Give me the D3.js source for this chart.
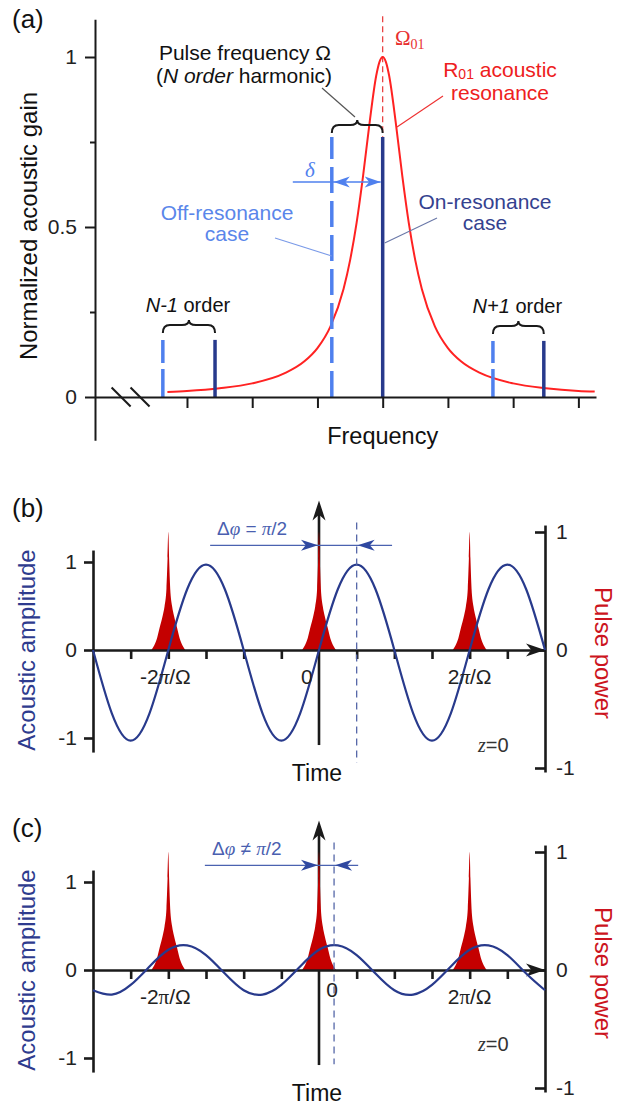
<!DOCTYPE html>
<html>
<head>
<meta charset="utf-8">
<script src="https://cdn.jsdelivr.net/npm/d3@7"></script>
<style>
  body { margin: 0; background: #fff; }
  svg { display: block; font-family: Arial, "Liberation Sans", Helvetica, sans-serif; }
</style>
</head>
<body>
<div id="chart"></div>
<script>
// ---------- panel (a): normalized acoustic gain vs frequency ----------
// frequency in tick units, Omega01 at 0
var resFreq = [-3.3, -3, -2.5, -2, -1.5, -1.2, -1, -0.8, -0.6, -0.5, -0.4, -0.3, -0.2, -0.1, -0.05, 0,
               0.05, 0.1, 0.2, 0.3, 0.4, 0.5, 0.6, 0.8, 1, 1.2, 1.5, 2, 2.5, 3, 3.25];
var resGain = [0.015, 0.018, 0.026, 0.040, 0.070, 0.105, 0.144, 0.208, 0.318, 0.402, 0.512, 0.651, 0.808, 0.944, 0.985, 1,
               0.985, 0.944, 0.808, 0.651, 0.512, 0.402, 0.318, 0.208, 0.144, 0.105, 0.070, 0.040, 0.026, 0.018, 0.016];
var orderNames = ["N-1", "N", "N+1"];
var offResFreq = [-3.37, -0.78, 1.69];
var onResFreq = [-2.57, 0, 2.47];
var harmonicGain = [0.168, 0.765, 0.165];
var gainTicks = [0, 0.5, 1];
var gainMinorTicks = [0.25, 0.75];
var freqTicks = [-3, -2, -1, 0, 1, 2, 3];
var breakFreq = [-4.01, -3.72];

// ---------- panels (b) and (c): acoustic amplitude and pulses vs time ----------
// time in tick units, 2*pi/Omega = 4 ticks
var timeVals = [-6, -5.5, -5, -4.5, -4, -3.5, -3, -2.5, -2, -1.5, -1, -0.5, 0,
                0.5, 1, 1.5, 2, 2.5, 3, 3.5, 4, 4.5, 5, 5.5, 6];
var ampOnRes = [0, -0.72, -1.03, -0.72, 0, 0.69, 0.97, 0.69, 0, -0.72, -1.03, -0.72, 0,
                0.69, 0.97, 0.69, 0, -0.72, -1.03, -0.72, 0, 0.69, 0.97, 0.69, 0];
var ampOffRes = [-0.23, -0.28, -0.17, 0.04, 0.23, 0.28, 0.17, -0.04, -0.23, -0.28, -0.17, 0.04, 0.23,
                 0.28, 0.17, -0.04, -0.23, -0.28, -0.17, 0.04, 0.23, 0.28, 0.17, -0.04, -0.23];
var pulseCenters = [-4, 0, 4];
var pulseDt = [-0.45, -0.38, -0.3, -0.23, -0.15, -0.1, -0.05, -0.02, 0, 0.02, 0.05, 0.1, 0.15, 0.23, 0.3, 0.38, 0.45];
var pulsePower = [0, 0.035, 0.1, 0.19, 0.29, 0.37, 0.52, 0.78, 1, 0.78, 0.52, 0.37, 0.29, 0.19, 0.1, 0.035, 0];
var timeTicks = [-5, -4, -3, -2, -1, 1, 2, 3, 4, 5];
var timeTickLabelPos = [-4, 4];
var timeTickLabelText = ["-2", "2"];
var ampTicks = [-1, 0, 1];
var powerTicks = [-1, 0, 1];
var panelLetters = ["(b)", "(c)"];
var phaseRelation = ["=", "\u2260"];
var dashedLineT = [1, 0.4];
var dashedBottomAmp = [-1.28, -1.07];
var arrowStartT = [-2.89, -3.03];
var arrowEndT = [1.94, 1.04];
var phaseTextT = [-2.71, -2.84];
var zeroLabelT = [-0.32, 0.35];
var zeroLabelDy = [0, -7];
var zLabelAmp = [-1.16, -0.92];

var W = 629, H = 1106;
var black = "#1a1a1a", red = "#ff2222", darkRed = "#c40000", navy = "#283a8c", lightBlue = "#4f80ee";
var serif = "'Liberation Serif', 'Times New Roman', serif";
var plainNum = function(d) { return String(d); };   // hyphen minus like the original

var svg = d3.select("#chart").append("svg").attr("width", W).attr("height", H);
svg.append("rect").attr("width", W).attr("height", H).attr("fill", "#fff");

function arrowHead(g, x, y, dir, color, len, half) {
  // dir: angle in degrees of pointing direction
  var p = [[0, 0], [-len, -half], [-len * 0.72, 0], [-len, half]];
  g.append("path")
    .attr("d", "M" + p.map(function(d) { return d.join(","); }).join("L") + "Z")
    .attr("transform", "translate(" + x + "," + y + ") rotate(" + dir + ")")
    .attr("fill", color);
}

function bracePath(x1, x2, yb) {
  var xm = (x1 + x2) / 2, h = 8, tip = 5, r = 7;
  return "M" + x1 + "," + yb + " Q" + x1 + "," + (yb - h) + " " + (x1 + r) + "," + (yb - h) +
         " L" + (xm - r) + "," + (yb - h) + " Q" + xm + "," + (yb - h) + " " + xm + "," + (yb - h - tip) +
         " Q" + xm + "," + (yb - h) + " " + (xm + r) + "," + (yb - h) +
         " L" + (x2 - r) + "," + (yb - h) + " Q" + x2 + "," + (yb - h) + " " + x2 + "," + yb;
}

function styleAxis(g, width, fontSize) {
  g.select(".domain").attr("stroke", black).attr("stroke-width", width);
  g.selectAll(".tick line").attr("stroke", black).attr("stroke-width", width);
  g.selectAll(".tick text").attr("fill", "#222").style("font-size", fontSize + "px")
    .style("font-family", "Arial, 'Liberation Sans', sans-serif");
}

// ================= panel (a) =================
var xA = d3.scaleLinear().domain([-4.41, 3.27]).range([95, 596]);
var yA = d3.scaleLinear().domain([0, 1]).range([397, 57]);
var yAext = d3.scaleLinear().domain([-0.127, 1.111]).range([yA(-0.127), yA(1.111)]);

var gA = svg.append("g").attr("class", "panel-a");

// red dashed Omega01 marker
gA.append("line")
  .attr("x1", xA(0)).attr("x2", xA(0))
  .attr("y1", yA(1.12)).attr("y2", yA(0))
  .attr("stroke", "#e83535").attr("stroke-width", 1.2).attr("stroke-dasharray", "6,4");

// resonance curve
var resData = resFreq.map(function(f, i) { return { f: f, g: resGain[i] }; });
gA.append("path")
  .datum(resData)
  .attr("fill", "none").attr("stroke", red).attr("stroke-width", 2)
  .attr("d", d3.line().x(function(d) { return xA(d.f); }).y(function(d) { return yA(d.g); })
    .curve(d3.curveMonotoneX));

// harmonic lines: dashed = off resonance, solid = on resonance
orderNames.forEach(function(name, i) {
  gA.append("line")
    .attr("x1", xA(offResFreq[i])).attr("x2", xA(offResFreq[i]))
    .attr("y1", yA(0)).attr("y2", yA(harmonicGain[i]))
    .attr("stroke", lightBlue).attr("stroke-width", 3.5)
    .attr("stroke-dasharray", i === 1 ? "26,8" : "28,6");
  gA.append("line")
    .attr("x1", xA(onResFreq[i])).attr("x2", xA(onResFreq[i]))
    .attr("y1", yA(0)).attr("y2", yA(harmonicGain[i]))
    .attr("stroke", navy).attr("stroke-width", 3.5);
  var yb = yA(harmonicGain[i]) - (i === 1 ? 4 : 7);
  gA.append("path")
    .attr("d", bracePath(xA(offResFreq[i]), xA(onResFreq[i]), yb))
    .attr("fill", "none").attr("stroke", black).attr("stroke-width", 2);
  if (i !== 1) {
    var lbl = gA.append("text")
      .attr("x", (xA(offResFreq[i]) + xA(onResFreq[i])) / 2 - 1)
      .attr("y", yb - 21)
      .attr("text-anchor", "middle").attr("fill", "#111").style("font-size", "20px");
    lbl.append("tspan").attr("font-style", "italic").text(name);
    lbl.append("tspan").text(" order");
  }
});

// axes
var axA_y = gA.append("g").attr("transform", "translate(" + xA.range()[0] + ",0)")
  .call(d3.axisLeft(yAext).tickValues(gainTicks).tickSize(10).tickSizeOuter(0).tickPadding(8)
    .tickFormat(plainNum));
styleAxis(axA_y, 2, 21);
var axA_ym = gA.append("g").attr("transform", "translate(" + xA.range()[0] + ",0)")
  .call(d3.axisLeft(yAext).tickValues(gainMinorTicks).tickSize(5).tickSizeOuter(0).tickFormat(""));
styleAxis(axA_ym, 2, 21);
axA_ym.select(".domain").remove();
var axA_x = gA.append("g").attr("transform", "translate(0," + yA(0) + ")")
  .call(d3.axisBottom(xA).tickValues(freqTicks).tickSize(11).tickSizeOuter(0).tickFormat(""));
styleAxis(axA_x, 2, 21);

// axis break marks
breakFreq.forEach(function(f) {
  gA.append("line")
    .attr("x1", xA(f) - 9.5).attr("y1", yA(0) - 9.5)
    .attr("x2", xA(f) + 9.5).attr("y2", yA(0) + 9.5)
    .attr("stroke", black).attr("stroke-width", 2);
});

// delta arrow between off- and on-resonance lines
var yDelta = 182;
gA.append("line").attr("x1", xA(offResFreq[1]) - 39).attr("x2", xA(onResFreq[1]) - 2)
  .attr("y1", yDelta).attr("y2", yDelta).attr("stroke", lightBlue).attr("stroke-width", 1.5);
arrowHead(gA, xA(onResFreq[1]) - 2, yDelta, 0, lightBlue, 16, 5.5);
arrowHead(gA, xA(offResFreq[1]) + 2, yDelta, 180, lightBlue, 16, 5.5);
gA.append("text").attr("x", xA(offResFreq[1]) - 22).attr("y", 177)
  .attr("text-anchor", "middle").attr("fill", lightBlue)
  .style("font-family", serif).style("font-style", "italic")
  .style("font-size", "21px").text("\u03b4");

// texts (a)
svg.append("text").attr("x", 12).attr("y", 28).style("font-size", "26px").attr("fill", "#111").text("(a)");

svg.append("text")
  .attr("transform", "translate(37," + 226 + ") rotate(-90)")
  .attr("text-anchor", "middle").style("font-size", "24px").attr("fill", "#111")
  .text("Normalized acoustic gain");

svg.append("text").attr("x", xA(0)).attr("y", 444).attr("text-anchor", "middle")
  .style("font-size", "23.5px").attr("fill", "#111").text("Frequency");

var pf = svg.append("g").attr("fill", "#111").style("font-size", "21px");
pf.append("text").attr("x", 245).attr("y", 60).attr("text-anchor", "middle").text("Pulse frequency \u03a9");
var pf2 = pf.append("text").attr("x", 244).attr("y", 83).attr("text-anchor", "middle");
pf2.append("tspan").text("(");
pf2.append("tspan").attr("font-style", "italic").text("N order");
pf2.append("tspan").text(" harmonic)");
svg.append("line").attr("x1", 355).attr("y1", 117).attr("x2", 322).attr("y2", 88)
  .attr("stroke", "#555").attr("stroke-width", 1.2);

var om = svg.append("text").attr("x", 395).attr("y", 45).attr("fill", "#e83030")
  .style("font-family", serif).style("font-size", "21px");
om.append("tspan").text("\u03a9");
om.append("tspan").attr("dy", 4).style("font-size", "14px").text("01");

var rr = svg.append("g").attr("fill", "#ee2020").style("font-size", "21px");
var r1 = rr.append("text").attr("x", 500).attr("y", 77).attr("text-anchor", "middle");
r1.append("tspan").text("R");
r1.append("tspan").attr("dy", 2).style("font-size", "14px").text("01");
r1.append("tspan").attr("dy", -2).text(" acoustic");
rr.append("text").attr("x", 500).attr("y", 100).attr("text-anchor", "middle").text("resonance");
svg.append("line").attr("x1", 443).attr("y1", 96).attr("x2", 397).attr("y2", 127)
  .attr("stroke", "#ee3030").attr("stroke-width", 1.1);

var off = svg.append("g").attr("fill", "#5a86ea").style("font-size", "21px").attr("text-anchor", "middle");
off.append("text").attr("x", 227).attr("y", 220).text("Off-resonance");
off.append("text").attr("x", 227).attr("y", 241).text("case");
svg.append("line").attr("x1", 275).attr("y1", 238).attr("x2", xA(offResFreq[1])).attr("y2", 256)
  .attr("stroke", "#7a9ae8").attr("stroke-width", 1.1);

var on = svg.append("g").attr("fill", "#34428f").style("font-size", "21px").attr("text-anchor", "middle");
on.append("text").attr("x", 485).attr("y", 209).text("On-resonance");
on.append("text").attr("x", 485).attr("y", 230).text("case");
svg.append("line").attr("x1", 437).attr("y1", 218).attr("x2", xA(onResFreq[1]) + 2).attr("y2", 243)
  .attr("stroke", "#6a78a8").attr("stroke-width", 1.1);

// ================= panels (b) and (c) =================
var xT = d3.scaleLinear().domain([-6, 6]).range([93, 545]);
var yAmp = d3.scaleLinear().domain([-1, 1]).range([738, 562]);
var yPow = d3.scaleLinear().domain([-1, 1]).range([768, 532]);
var yAmpExt = d3.scaleLinear().domain([-1.16, 1.136]).range([yAmp(-1.16), yAmp(1.136)]);
var yPowExt = d3.scaleLinear().domain([-1.034, 1.059]).range([yPow(-1.034), yPow(1.059)]);

function drawTimePanel(k, amps) {
  var g = svg.append("g").attr("transform", "translate(0," + (k * 320) + ")");

  // vertical time axis with arrow
  g.append("line").attr("x1", xT(0)).attr("x2", xT(0))
    .attr("y1", yAmp(-1.08)).attr("y2", yAmp(1.55))
    .attr("stroke", black).attr("stroke-width", 2.6);
  arrowHead(g, xT(0), yAmp(1.7), -90, black, 20, 6.5);

  // pulses
  var pulseArea = d3.area()
    .x(function(d) { return xT(d.t); })
    .y0(yPow(0))
    .y1(function(d) { return yPow(d.p); })
    .curve(d3.curveMonotoneX);
  pulseCenters.forEach(function(c) {
    var pd = pulseDt.map(function(dt, i) { return { t: c + dt, p: pulsePower[i] }; });
    g.append("path").datum(pd).attr("fill", darkRed).attr("d", pulseArea);
  });

  // x axis, left and right axes
  var axX = g.append("g").attr("transform", "translate(0," + yAmp(0) + ")")
    .call(d3.axisBottom(xT).tickValues(timeTicks).tickSize(9).tickSizeOuter(0).tickFormat(""));
  styleAxis(axX, 2.6, 21);
  arrowHead(g, xT(6), yAmp(0), 0, black, 19, 6.5);

  var axL = g.append("g").attr("transform", "translate(" + xT(-6) + ",0)")
    .call(d3.axisLeft(yAmpExt).tickValues(ampTicks).tickSize(9).tickSizeOuter(0).tickPadding(7)
      .tickFormat(plainNum));
  styleAxis(axL, 2.6, 21);

  var axR = g.append("g").attr("transform", "translate(" + xT(6) + ",0)")
    .call(d3.axisRight(yPowExt).tickValues(powerTicks).tickSize(-10).tickSizeOuter(0).tickPadding(11)
      .tickFormat(plainNum));
  styleAxis(axR, 2.6, 21);

  // acoustic wave
  var wave = timeVals.map(function(t, i) { return { t: t, a: amps[i] }; });
  g.append("path").datum(wave)
    .attr("fill", "none").attr("stroke", navy).attr("stroke-width", 2.2)
    .attr("d", d3.line().x(function(d) { return xT(d.t); }).y(function(d) { return yAmp(d.a); })
      .curve(d3.curveNatural));

  // dashed marker at the wave maximum
  g.append("line").attr("x1", xT(dashedLineT[k])).attr("x2", xT(dashedLineT[k]))
    .attr("y1", yAmp(1.45)).attr("y2", yAmp(dashedBottomAmp[k]))
    .attr("stroke", "#5567a8").attr("stroke-width", 1.3).attr("stroke-dasharray", "7,5");

  // phase arrows
  var yArr = yAmp(1.19);
  g.append("line").attr("x1", xT(arrowStartT[k])).attr("x2", xT(arrowEndT[k]))
    .attr("y1", yArr).attr("y2", yArr).attr("stroke", "#4a62b0").attr("stroke-width", 1.3);
  arrowHead(g, xT(0) - 1, yArr, 0, "#2f48a0", 17, 5.5);
  arrowHead(g, xT(dashedLineT[k]) + 1, yArr, 180, "#2f48a0", 17, 5.5);

  var ph = g.append("text").attr("x", xT(phaseTextT[k])).attr("y", yArr - 10)
    .attr("fill", "#4a5fb0").style("font-size", "19px");
  ph.append("tspan").text("\u0394");
  ph.append("tspan").style("font-family", serif).style("font-style", "italic").text("\u03c6");
  ph.append("tspan").text(" " + phaseRelation[k] + " ");
  ph.append("tspan").style("font-family", serif).style("font-style", "italic").text("\u03c0");
  ph.append("tspan").text("/2");

  // time tick labels
  timeTickLabelPos.forEach(function(t, i) {
    var tl = g.append("text").attr("x", xT(t) - (t < 0 ? 3 : 0)).attr("y", 684)
      .attr("text-anchor", "middle").attr("fill", "#222").style("font-size", "21px");
    tl.append("tspan").text(timeTickLabelText[i]);
    tl.append("tspan").style("font-family", serif).style("font-style", k === 0 ? "italic" : "normal").text("\u03c0");
    tl.append("tspan").text("/\u03a9");
  });
  g.append("text").attr("x", xT(zeroLabelT[k])).attr("y", 684 + zeroLabelDy[k])
    .attr("text-anchor", "middle").attr("fill", "#222").style("font-size", "21px").text("0");

  var zl = g.append("text").attr("x", xT(4.22)).attr("y", yAmp(zLabelAmp[k]))
    .attr("fill", "#333").style("font-size", "20px");
  zl.append("tspan").style("font-family", serif).style("font-style", "italic").text("z");
  zl.append("tspan").text("=0");

  g.append("text").attr("x", xT(0) - 2).attr("y", 781).attr("text-anchor", "middle")
    .attr("fill", "#111").style("font-size", "23px").text("Time");

  g.append("text").attr("x", 12).attr("y", 517).attr("fill", "#111").style("font-size", "26px")
    .text(panelLetters[k]);

  g.append("text").attr("transform", "translate(35," + yAmp(0) + ") rotate(-90)")
    .attr("text-anchor", "middle").attr("fill", "#2e3b8e").style("font-size", "24px")
    .text("Acoustic amplitude");

  g.append("text").attr("transform", "translate(595," + (yAmp(0) + 3) + ") rotate(90)")
    .attr("text-anchor", "middle").attr("fill", "#cc1420").style("font-size", "24px")
    .text("Pulse power");
}

drawTimePanel(0, ampOnRes);
drawTimePanel(1, ampOffRes);
</script>
</body>
</html>
